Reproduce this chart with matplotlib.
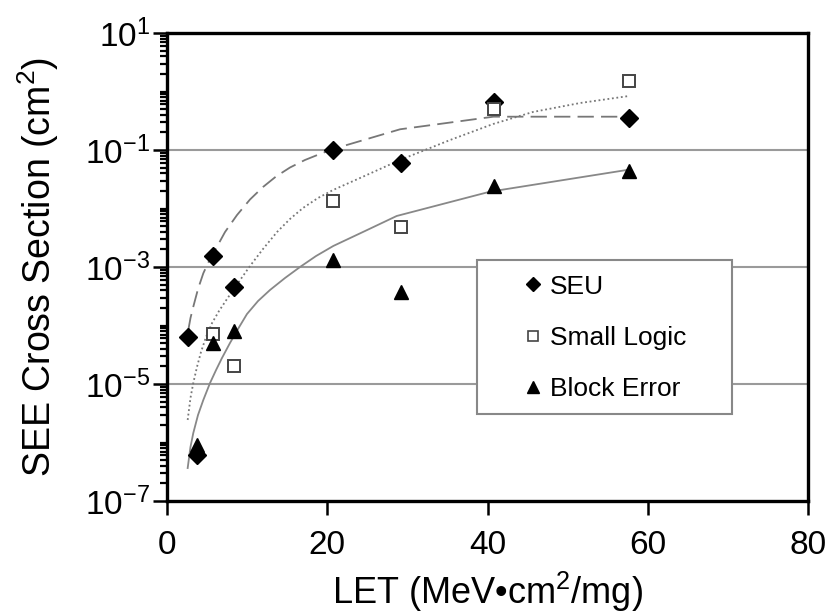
import math
import matplotlib
matplotlib.use("Agg")
import matplotlib.pyplot as plt
from matplotlib.patches import Rectangle
from matplotlib.lines import Line2D
from matplotlib.ticker import FixedLocator, NullFormatter, FuncFormatter

plt.rcParams["font.family"] = ["Liberation Sans", "DejaVu Sans"]
plt.rcParams["mathtext.fontset"] = "custom"
plt.rcParams["mathtext.rm"] = "Liberation Sans"
plt.rcParams["mathtext.it"] = "Liberation Sans"

# --- measured points ---
seu_let = [2.6, 3.7, 5.8, 8.3, 20.7, 29.2, 40.8, 57.7]
seu_xs = [6.4e-5, 6.1e-7, 1.55e-3, 4.5e-4, 0.10, 0.06, 0.65, 0.355]

logic_let = [5.8, 8.3, 20.7, 29.2, 40.8, 57.7]
logic_xs = [7.1e-5, 2.0e-5, 0.0136, 0.0049, 0.51, 1.53]

block_let = [3.7, 5.8, 8.3, 20.7, 29.2, 40.8, 57.7]
block_xs = [9e-7, 5.1e-5, 7.9e-5, 1.3e-3, 3.7e-4, 0.0245, 0.043]

# --- fit curves ---
seu_fit_let = [2.66, 2.93, 3.28, 3.87, 4.53, 5.12, 5.78, 7.24, 8.74, 10.36, 11.98,
               13.6, 15.35, 17.22, 19.09, 20.64, 29.09, 40.74, 57.68]
seu_fit_xs = [8.38e-5, 1.34e-4, 2.09e-4, 4.21e-4, 7.80e-4, 1.17e-3, 1.71e-3, 3.96e-3,
              7.74e-3, 0.01426, 0.0233, 0.0352, 0.0502, 0.0675, 0.0855, 0.103,
              0.226, 0.371, 0.371]

logic_fit_let = [2.58, 2.93, 3.28, 3.74, 4.24, 4.87, 5.62, 6.49, 7.49, 8.86, 10.36,
                 11.98, 13.73, 15.35, 16.97, 18.84, 20.72, 24.09, 29.08, 35.32,
                 40.69, 45.68, 51.54, 57.66]
logic_fit_xs = [2.43e-6, 5.77e-6, 1.04e-5, 1.95e-5, 3.52e-5, 6.35e-5, 1.10e-4, 1.77e-4,
                2.84e-4, 5.32e-4, 1.04e-3, 2.03e-3, 3.96e-3, 6.62e-3, 0.0102, 0.0151,
                0.0207, 0.0332, 0.0675, 0.148, 0.278, 0.447, 0.635, 0.838]

block_fit_let = [2.58, 2.93, 3.28, 3.87, 4.53, 5.37, 6.12, 6.86, 7.86, 8.86, 9.98,
                 11.36, 12.86, 14.73, 16.60, 18.60, 20.76, 24.71, 28.67, 40.31, 57.37]
block_fit_xs = [3.66e-7, 8.38e-7, 1.45e-6, 2.95e-6, 5.32e-6, 1.04e-5, 1.73e-5, 2.78e-5,
                5.02e-5, 8.71e-5, 1.57e-4, 2.62e-4, 4.05e-4, 6.49e-4, 1.0e-3, 1.54e-3,
                2.29e-3, 4.12e-3, 7.45e-3, 0.0194, 0.0455]

x_ticks = [0, 20, 40, 60, 80]
y_major = [1e-7, 1e-5, 1e-3, 1e-1, 1e1]
grid_levels = [1e-5, 1e-3, 1e-1]

W, H = 831, 613
fig = plt.figure(figsize=(W / 100, H / 100), dpi=100)
ax = fig.add_axes([167 / W, 1 - 501 / H, (808 - 167) / W, (501 - 33) / H])

ax.set_yscale("log")
ax.set_xlim(0, 80)
ax.set_ylim(1e-7, 1e1)

for lvl in grid_levels:
    ax.axhline(lvl, color="#9a9a9a", linewidth=1.5, zorder=1)

ax.plot(seu_fit_let, seu_fit_xs, color="#777777", linewidth=1.3, dashes=(9, 4), zorder=2)
ax.plot(logic_fit_let, logic_fit_xs, color="#777777", linewidth=1.3, linestyle=(0, (1, 1.5)), zorder=2)
ax.plot(block_fit_let, block_fit_xs, color="#888888", linewidth=1.3, zorder=2)

ax.plot(seu_let, seu_xs, linestyle="none", marker="D", markersize=9, color="black", zorder=6)
ax.plot(logic_let, logic_xs, linestyle="none", marker="s", markersize=9, markerfacecolor="white",
        markeredgecolor="#444444", markeredgewidth=1.4, zorder=6)
ax.plot(block_let, block_xs, linestyle="none", marker="^", markersize=10, color="black", zorder=6)

# legend box
ax.add_patch(Rectangle(((476.7 - 167) / 641, (501 - 414) / 468), (732 - 476.7) / 641, (414 - 260) / 468,
                       transform=ax.transAxes, facecolor="white", edgecolor="#888888",
                       linewidth=1.5, zorder=4))
handles = [
    Line2D([], [], linestyle="none", marker="D", markersize=7, color="black"),
    Line2D([], [], linestyle="none", marker="s", markersize=7, markerfacecolor="white",
           markeredgecolor="#444444", markeredgewidth=1.2),
    Line2D([], [], linestyle="none", marker="^", markersize=8, color="black"),
]
leg = ax.legend(handles, ["SEU", "Small Logic", "Block Error"], loc="center left",
                bbox_to_anchor=((523 - 167) / 641, (501 - 338) / 468), frameon=False,
                fontsize=19, handlelength=0.77, handletextpad=0.25, borderpad=0,
                borderaxespad=0, labelspacing=1.04)
leg.set_zorder(5)

# ticks
ax.xaxis.set_major_locator(FixedLocator(x_ticks))
ax.yaxis.set_major_locator(FixedLocator(y_major))
minors = [k * 10.0 ** e for e in range(-7, 1) for k in range(1, 10)
          if k * 10.0 ** e not in y_major]
ax.yaxis.set_minor_locator(FixedLocator(minors))
ax.yaxis.set_minor_formatter(NullFormatter())
ax.xaxis.set_minor_locator(FixedLocator([]))
ax.yaxis.set_major_formatter(FuncFormatter(
    lambda v, p: r"$\mathregular{10^{%d}}$" % round(math.log10(v))))

ax.tick_params(axis="both", which="major", direction="out", length=10, width=1.8,
               labelsize=24, color="black")
ax.tick_params(axis="x", which="major", pad=11)
ax.tick_params(axis="y", which="major", pad=2)
ax.tick_params(axis="y", which="minor", direction="out", length=5, width=1.6)

for sp in ax.spines.values():
    sp.set_linewidth(2.4)
    sp.set_zorder(7)

ax.set_xlabel(r"LET (MeV•cm$^{2}$/mg)", fontsize=26)
ax.set_ylabel(r"SEE Cross Section (cm$^{2}$)", fontsize=27)
ax.xaxis.set_label_coords(0.5, -0.148)
ax.yaxis.set_label_coords(-0.165, 0.5)

fig.savefig("out.png", dpi=100)
